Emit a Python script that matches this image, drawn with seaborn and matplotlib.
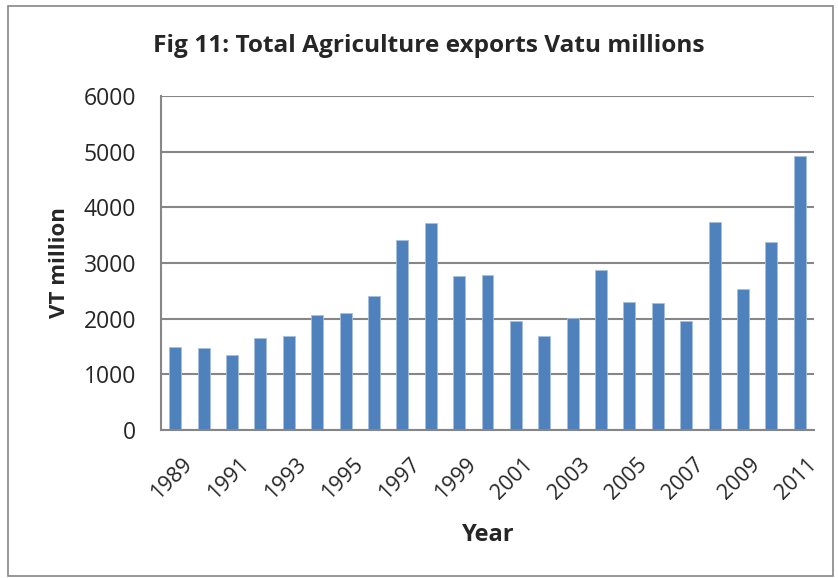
import matplotlib
matplotlib.use("Agg")
import matplotlib.pyplot as plt
from matplotlib.patches import Rectangle
from matplotlib.transforms import ScaledTranslation
import seaborn as sns
import pandas as pd

years = [str(y) for y in range(1989, 2012)]
exports = [1500, 1465, 1340, 1660, 1695, 2060, 2105, 2400, 3420, 3715,
           2770, 2785, 1960, 1685, 2020, 2875, 2305, 2280, 1960, 3730,
           2530, 3375, 4920]
tick_years = years[::2]

df = pd.DataFrame({"Year": years, "Exports": exports})

sns.set_theme(style="white")
plt.rcParams["font.family"] = ["Open Sans", "DejaVu Sans"]

W, H = 838, 578
fig = plt.figure(figsize=(W / 100, H / 100), dpi=100)
ax = fig.add_axes([161 / W, 1 - 430 / H, (814 - 161) / W, (430 - 96) / H])

sns.barplot(data=df, x="Year", y="Exports", color="#4F81BD", saturation=1,
            width=0.42, ax=ax, edgecolor="#A7BFDE", linewidth=0.6)

ax.set_ylim(0, 6000)
ax.set_xlim(-0.5, len(years) - 0.5)
ax.set_yticks(range(0, 6001, 1000))
ax.yaxis.grid(True, color="#868686", linewidth=1.5)
ax.set_axisbelow(True)
for side in ["top", "right"]:
    ax.spines[side].set_visible(False)
for side in ["left", "bottom"]:
    ax.spines[side].set_color("#868686")
    ax.spines[side].set_linewidth(1.5)

# year labels every second bar, rotated and anchored at their upper-right end
ax.set_xticks(range(0, len(years), 2))
ax.set_xticklabels(tick_years, rotation=45, ha="right", va="top",
                   rotation_mode="anchor", fontsize=15.5)
ax.tick_params(axis="x", length=0, pad=17)
shift = ScaledTranslation(5 / 72, 0, fig.dpi_scale_trans)
for lbl in ax.get_xticklabels():
    lbl.set_transform(lbl.get_transform() + shift)

ax.tick_params(axis="y", length=0, pad=18, labelsize=16.5)

ax.set_xlabel("Year", fontsize=17, fontweight="bold")
ax.xaxis.label.set_va("center")
ax.xaxis.set_label_coords((488 - 161) / 653, -(535 - 430) / 334)

ax.set_ylabel("VT million", fontsize=16, fontweight="bold")
ax.yaxis.label.set_va("center")
ax.yaxis.set_label_coords(-(161 - 59) / 653, (430 - 263) / 334)

fig.text(429 / W, 1 - 46 / H, "Fig 11: Total Agriculture exports Vatu millions",
         ha="center", va="center", fontsize=17.6, fontweight="bold")

# chart frame
fig.patches.append(Rectangle((8 / W, 2 / H), 825 / W, 570 / H,
                             transform=fig.transFigure, fill=False,
                             edgecolor="#868686", linewidth=1.2))

fig.savefig("out.png", dpi=100)
